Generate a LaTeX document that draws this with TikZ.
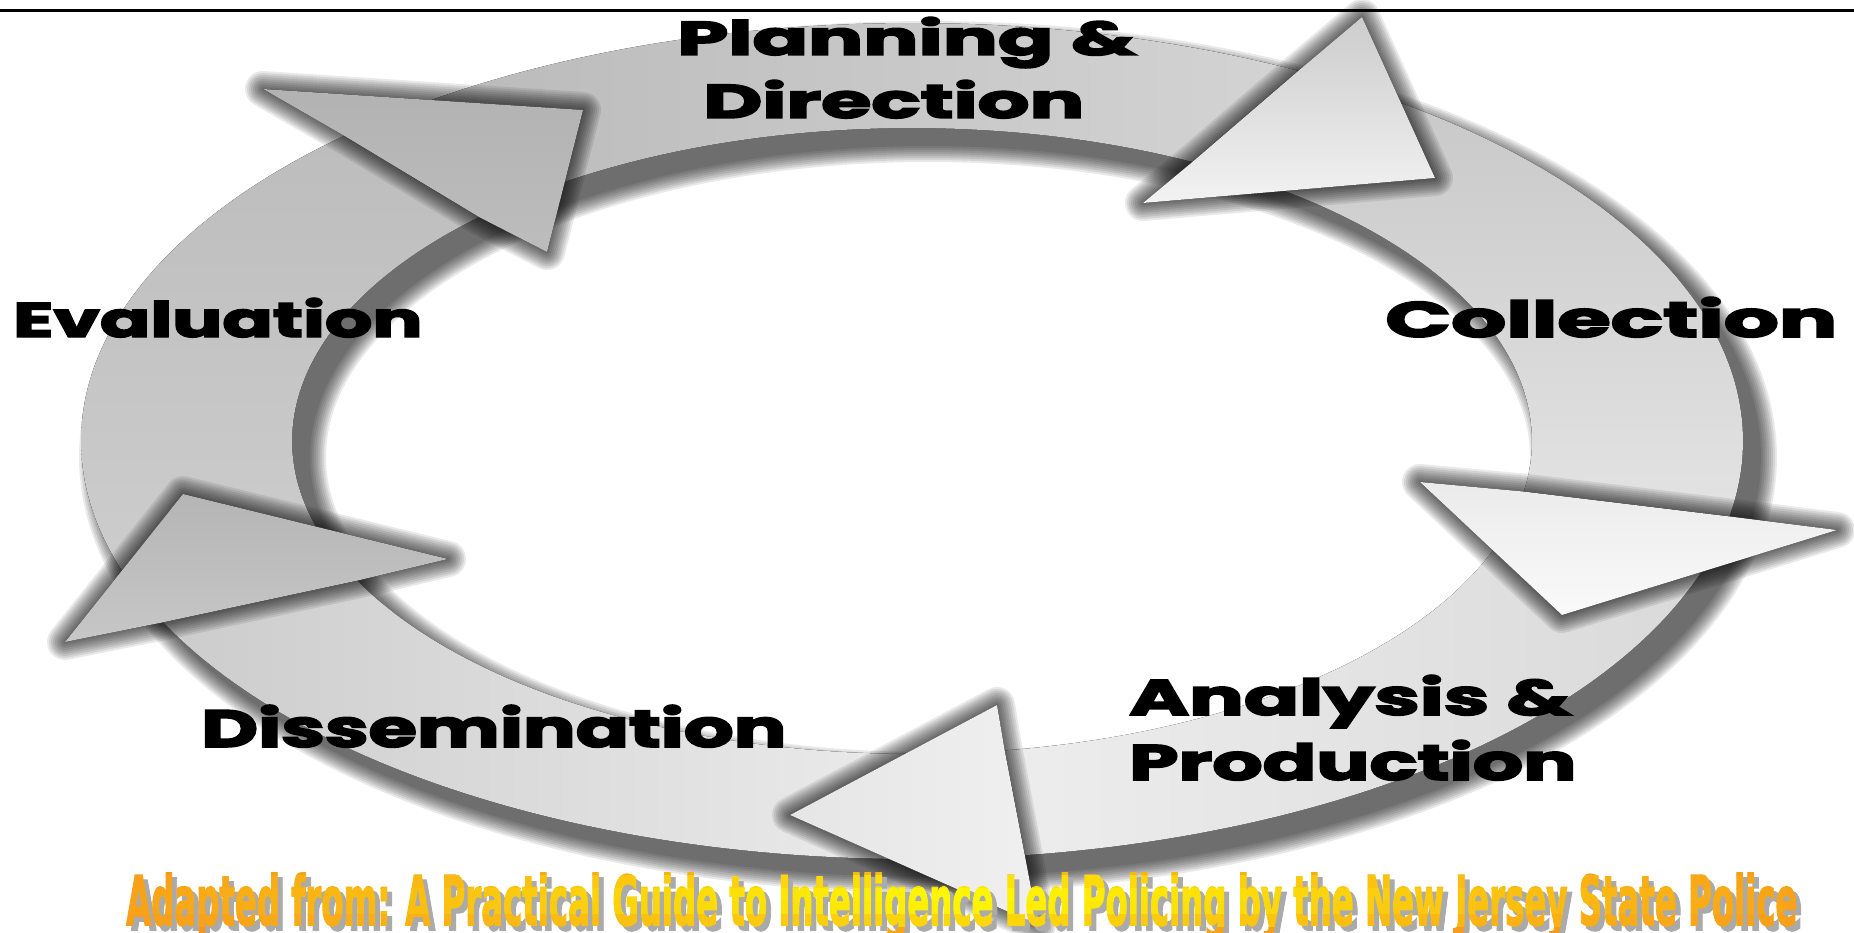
\documentclass[tikz,border=0pt]{standalone}
\usepackage{fontspec}
\usepackage{graphicx}
\newfontfamily\lblfont{Poppins}[FakeBold=3]
\newfontfamily\credfont{DejaVu Sans}[FakeBold=2.5]
\newcommand\credtext{\credfont\bfseries\resizebox{1671pt}{52pt}{Adapted from: A Practical Guide to Intelligence Led Policing by the New Jersey State Police}}
\definecolor{orA}{RGB}{246,146,30}
\definecolor{yeA}{RGB}{255,250,0}
\definecolor{shA}{RGB}{170,170,170}
\tikzset{
  lbl/.style={inner sep=0pt, anchor=base west, text=black},
  shadowlayer/.style={fill=black, draw=black, line join=round, shift={(16,16)}},
}
\def\seg#1#2#3#4{plot[domain=#1:#2,samples=60,variable=\t]({912+831*cos(\t)},{441+418*sin(\t)}) -- plot[domain=#3:#4,samples=60,variable=\t]({912+620*cos(\t)},{441+313*sin(\t)}) -- cycle }
\def\bodyA{\seg{154.3}{226.9}{225.7}{153.5}}
\def\bodyB{\seg{226.9}{297.7}{296.9}{225.7}}
\def\bodyC{\seg{297.7}{370.4}{369.3}{296.9}}
\def\bodyD{\seg{370.4}{442.2}{441.4}{369.3}}
\def\bodyE{\seg{442.2}{514.3}{513.5}{441.4}}
\def\headA{(Aw1) -- (At) -- (Aw2) -- (Ai) -- (Ao) -- cycle }
\def\headB{(Bw1) -- (Bt) -- (Bw2) -- (Bi) -- (Bo) -- cycle }
\def\headC{(Cw1) -- (Ct) -- (Cw2) -- (Ci) -- (Co) -- cycle }
\def\headD{(Dw1) -- (Dt) -- (Dw2) -- (Di) -- (Do) -- cycle }
\def\headE{(Ew1) -- (Et) -- (Ew2) -- (Ei) -- (Eo) -- cycle }
\begin{document}
\begin{tikzpicture}[x=1pt,y=-1pt]
\useasboundingbox (0,0) rectangle (1854,933);
\fill[white] (0,0) rectangle (1854,933);
% base points of the heads on the ring
\coordinate (Ao) at ({912+831*cos(226.9)},{441+418*sin(226.9)});
\coordinate (Ai) at ({912+620*cos(225.7)},{441+313*sin(225.7)});
\coordinate (Bo) at ({912+831*cos(297.7)},{441+418*sin(297.7)});
\coordinate (Bi) at ({912+620*cos(296.9)},{441+313*sin(296.9)});
\coordinate (Co) at ({912+831*cos(370.4)},{441+418*sin(370.4)});
\coordinate (Ci) at ({912+620*cos(369.3)},{441+313*sin(369.3)});
\coordinate (Do) at ({912+831*cos(442.2)},{441+418*sin(442.2)});
\coordinate (Di) at ({912+620*cos(441.4)},{441+313*sin(441.4)});
\coordinate (Eo) at ({912+831*cos(514.3)},{441+418*sin(514.3)});
\coordinate (Ei) at ({912+620*cos(513.5)},{441+313*sin(513.5)});
% wings and tips
\coordinate (Aw1) at (263,89);   \coordinate (At) at (583,110);  \coordinate (Aw2) at (547,252);
\coordinate (Bw1) at (1362,17);  \coordinate (Bt) at (1435,178); \coordinate (Bw2) at (1143,203);
\coordinate (Cw1) at (1837,530); \coordinate (Ct) at (1562,615); \coordinate (Cw2) at (1420,482);
\coordinate (Dw1) at (1038,925); \coordinate (Dt) at (790,815);  \coordinate (Dw2) at (997,705);
\coordinate (Ew1) at (65,642);   \coordinate (Et) at (183,494);  \coordinate (Ew2) at (448,559);
% top rule
\coordinate (tl) at (0,10.5); \coordinate (tr) at (1854,10.5);
\draw[line width=2.6pt] (tl) -- (tr);
% body shadows
\foreach \w in {36,32,...,4}{
  \begin{scope}[transparency group, opacity=0.085]
    \path[shadowlayer, line width=\w pt] \bodyA \bodyB \bodyC \bodyD \bodyE;
  \end{scope}
}
% bodies
\fill[top color=black!26, middle color=black!13, bottom color=black!19] \bodyA;
\fill[left color=black!28, right color=black!17] \bodyB;
\fill[top color=black!22, bottom color=black!11] \bodyC;
\fill[left color=black!7, right color=black!15] \bodyD;
\fill[left color=black!20, right color=black!6] \bodyE;
% head shadows
\foreach \w in {36,32,...,4}{
  \begin{scope}[transparency group, opacity=0.085]
    \path[shadowlayer, line width=\w pt] \headA \headB \headC \headD \headE;
  \end{scope}
}
% heads
\fill[top color=black!30, bottom color=black!26] \headA;
\fill[top color=black!20, bottom color=black!5] \headB;
\fill[top color=black!8, bottom color=black!2] \headC;
\fill[left color=black!10, right color=black!6] \headD;
\fill[top color=black!29, bottom color=black!22] \headE;
% labels
\node[lbl] (plan) at (677,55) {\lblfont\bfseries\resizebox{459pt}{38pt}{Planning \&}};
\node[lbl] (dir) at (703,118) {\lblfont\bfseries\resizebox{381pt}{38pt}{Direction}};
\node[lbl] (eval) at (13,337) {\lblfont\bfseries\resizebox{409pt}{39pt}{Evaluation}};
\node[lbl] (coll) at (1385,337) {\lblfont\bfseries\resizebox{452pt}{40pt}{Collection}};
\node[lbl] (anal) at (1129,715) {\lblfont\bfseries\resizebox{442pt}{40pt}{Analysis \&}};
\node[lbl] (prod) at (1129,780) {\lblfont\bfseries\resizebox{447pt}{40pt}{Production}};
\node[lbl] (diss) at (201,747) {\lblfont\bfseries\resizebox{585pt}{42pt}{Dissemination}};
% credit line
\node[inner sep=0pt, anchor=base west, text=shA] (credsh) at (131,930) {\credtext};
\foreach \i in {0,...,59}{
  \pgfmathsetmacro\xa{122+\i*28.2}
  \pgfmathsetmacro\hu{1-1.7*abs((\i+0.5)/60-0.5)}
  \foreach \j in {0,...,5}{
    \pgfmathsetmacro\ya{862+\j*13}
    \pgfmathsetmacro\dd{(\j+0.5)/6-0.47}
    \pgfmathsetmacro\vv{max(0,1-4*(\dd)*(\dd))}
    \pgfmathsetmacro\pp{100*\hu*\vv}
    \begin{scope}
      \clip (\xa,\ya) rectangle ({\xa+28.9},{\ya+13.6});
      \node[inner sep=0pt, anchor=base west, text=yeA!\pp!orA] (cr-\i-\j) at (126,925) {\credtext};
    \end{scope}
  }
}
\end{tikzpicture}
\end{document}
